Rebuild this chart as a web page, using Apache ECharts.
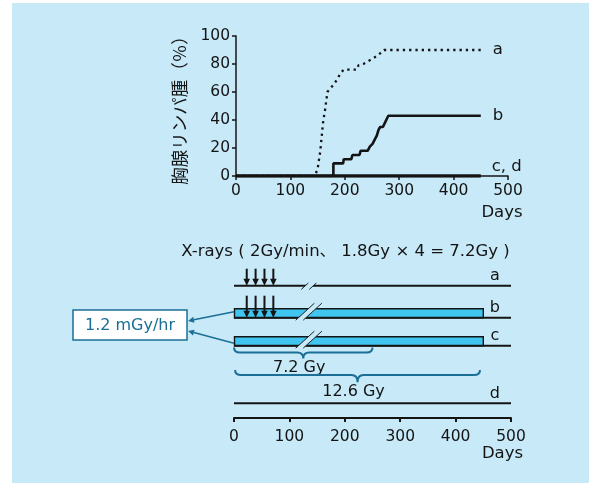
<!DOCTYPE html>
<html><head><meta charset="utf-8">
<script src="https://cdn.jsdelivr.net/npm/echarts@6/dist/echarts.min.js"></script>
<style>html,body{margin:0;padding:0;background:#fff}#c{width:589px;height:483px}</style>
</head><body><div id="c"></div>
<script>
// ---------- data ----------
const tickDays = [0, 100, 200, 300, 400, 500];
const tickPct = [0, 20, 40, 60, 80, 100];
const seriesNames = ['a', 'b', 'c, d'];
const curveA = [[0,0],[145,0],[150,5],[155,18],[160,38],[164,48],[168,60],[172,62],[179,65],[186,69],[193,74],[199,76],[222,76],[225,79],[234,80],[243,82],[252,84],[260,86],[266,88],[272,90],[450,90]];
const curveB = [[0,0],[179,0],[179,9],[197,9],[198,12],[212,12],[214,15],[227,15],[229,18],[242,18],[246,21],[251,23],[255,26],[259,29],[262,33],[265,35],[270,35],[275,39],[280,43],[450,43]];
const curveCD = [[0,0],[450,0]];
const rowNames = ['a', 'b', 'c', 'd'];
const rowLineEnd = [500, 500, 500, 500];
const rowExposureEnd = [null, 450, 450, null];
const rowHasXrays = [true, true, false, false];
const xrayDays = [23, 39, 55, 71];
const rowHasBreak = [true, true, true, false];
const breakDay = 135;
const braceLabels = ['7.2 Gy', '12.6 Gy'];
const braceFrom = [0, 2];
const braceTo = [250, 444];
const exposedRows = [1, 2];
const xrayTitle = 'X-rays ( 2Gy/min、 1.8Gy × 4 = 7.2Gy )';
const doseRateLabel = '1.2 mGy/hr';
const yAxisName = '胸腺リンパ腫（％）';
const xAxisName = 'Days';

// ---------- layout / style ----------
const BG = '#c7e9f8', BAR = '#3fc5f0', TEAL = '#1b6f96', INK = '#141414';
const FONT = "'DejaVu Sans', 'Noto Sans CJK JP', sans-serif";
const ROW_Y = [132.3, 100.3, 72.3, 14.7];   // px above lower axis
const BAR_H = 9;
const ARROW_LEN = [17, 22, 0, 0];
const BRACE_Y = [70.5, 48];                 // px above lower axis (brace ends)
const BRACE_TIP = [10, 12];

const chart = echarts.init(document.getElementById('c'), null, {renderer: 'canvas'});

const tickLabel = v => (tickDays.includes(v) || tickPct.includes(v)) ? String(v) : '';

function rowRender(params, api) {
  const i = api.value(0);
  const y = api.coord([0, ROW_Y[i]])[1];
  const x0 = api.coord([0, 0])[0];
  const x1 = api.coord([rowLineEnd[i], 0])[0];
  const ch = [];
  const hasBar = rowExposureEnd[i] != null;
  if (hasBar) {
    const xe = api.coord([rowExposureEnd[i], 0])[0];
    ch.push({type: 'rect', shape: {x: x0 + 0.5, y: y - BAR_H, width: xe - x0 - 0.5, height: BAR_H},
      style: {fill: BAR, stroke: INK, lineWidth: 1.4}});
  }
  ch.push({type: 'line', shape: {x1: x0, y1: y, x2: x1, y2: y}, style: {stroke: INK, lineWidth: 2}});
  if (rowHasBreak[i]) {
    const xb = api.coord([breakDay, 0])[0];
    const hh = hasBar ? 8.5 : 3.2;
    const cy = hasBar ? y - 6 : y + 0.5;
    const w = hasBar ? 7.5 : 8;
    const k = 1.1;
    const bl = [xb - w / 2 - hh * k, cy + hh], br = [xb + w / 2 - hh * k, cy + hh];
    const tr = [xb + w / 2 + hh * k, cy - hh], tl = [xb - w / 2 + hh * k, cy - hh];
    ch.push({type: 'polygon', shape: {points: [bl, br, tr, tl]}, style: {fill: BG}});
    ch.push({type: 'line', shape: {x1: bl[0], y1: bl[1], x2: tl[0], y2: tl[1]}, style: {stroke: '#222', lineWidth: 1}});
    ch.push({type: 'line', shape: {x1: br[0], y1: br[1], x2: tr[0], y2: tr[1]}, style: {stroke: '#222', lineWidth: 1}});
  }
  const xl = api.coord([471, 0])[0];
  ch.push({type: 'text', style: {text: rowNames[i], x: xl, y: y - 9.5, align: 'center', verticalAlign: 'middle',
    font: '16px ' + FONT, fill: INK}});
  return {type: 'group', children: ch};
}

function xrayRender(params, api) {
  const d = api.value(0), r = api.value(1);
  const [x, yTip] = api.coord([d, ROW_Y[r]]);
  const top = yTip - ARROW_LEN[r];
  return {type: 'group', children: [
    {type: 'line', shape: {x1: x, y1: top, x2: x, y2: yTip - 5}, style: {stroke: INK, lineWidth: 2}},
    {type: 'polygon', shape: {points: [[x - 3.3, yTip - 7], [x + 3.3, yTip - 7], [x, yTip]]}, style: {fill: INK}}
  ]};
}

function braceRender(params, api) {
  const i = api.value(0);
  const xa = api.coord([braceFrom[i], 0])[0];
  const xb = api.coord([braceTo[i], 0])[0];
  const y0 = api.coord([0, BRACE_Y[i]])[1];
  const ym = y0 + 5, yt = y0 + 5 + BRACE_TIP[i] * 0.6;
  const xm = (xa + xb) / 2, q = 6;
  const p = `M${xa} ${y0} Q${xa} ${ym} ${xa + q} ${ym} L${xm - q} ${ym} Q${xm} ${ym} ${xm} ${yt} ` +
            `Q${xm} ${ym} ${xm + q} ${ym} L${xb - q} ${ym} Q${xb} ${ym} ${xb} ${y0}`;
  return {type: 'group', children: [
    {type: 'path', shape: {pathData: p}, style: {fill: 'none', stroke: TEAL, lineWidth: 2}},
    {type: 'text', style: {text: braceLabels[i], x: xm - 4, y: yt + 9.5, align: 'center', verticalAlign: 'middle',
      font: '16px ' + FONT, fill: INK}}
  ]};
}

const BOX = {x: 73, y: 310, w: 114, h: 30};
const LINK_TIP = [[188, 321], [188, 331]];
const LINK_OFF = [6, 2.5];
function linkRender(params, api) {
  const idx = params.dataIndex;
  const r = api.value(0);
  const [sx, ry] = api.coord([0, ROW_Y[r]]);
  const sy = ry - LINK_OFF[idx];
  const [tx, ty] = LINK_TIP[idx];
  const dx = tx - sx, dy = ty - sy, L = Math.hypot(dx, dy);
  const ux = dx / L, uy = dy / L, hl = 6, hw = 3;
  const bx = tx - ux * hl, by = ty - uy * hl;
  return {type: 'group', children: [
    {type: 'line', shape: {x1: sx, y1: sy, x2: bx, y2: by}, style: {stroke: TEAL, lineWidth: 1.6}},
    {type: 'polygon', shape: {points: [[tx, ty], [bx - uy * hw, by + ux * hw], [bx + uy * hw, by - ux * hw]]}, style: {fill: TEAL}}
  ]};
}

const xrayData = [];
rowHasXrays.forEach((h, r) => { if (h) xrayDays.forEach(d => xrayData.push([d, r])); });

const axisCommon = {
  axisLine: {lineStyle: {color: INK, width: 1.5}},
  axisTick: {show: true, inside: false, length: 4, lineStyle: {color: INK, width: 1.5}},
  splitLine: {show: false},
  axisLabel: {color: INK, fontSize: 15.5, fontFamily: FONT}
};

chart.setOption({
  animation: false,
  backgroundColor: '#ffffff',
  graphic: [
    {type: 'rect', z: -10, shape: {x: 12, y: 3, width: 577, height: 480}, style: {fill: BG}},
    {type: 'text', style: {text: xrayTitle, x: 345.5, y: 252, align: 'center', verticalAlign: 'middle', font: '16.5px ' + FONT, fill: INK}},
    {type: 'text', style: {text: xAxisName, x: 502, y: 213, align: 'center', verticalAlign: 'middle', font: '16.5px ' + FONT, fill: INK}},
    {type: 'text', style: {text: xAxisName, x: 502.5, y: 453.5, align: 'center', verticalAlign: 'middle', font: '16.5px ' + FONT, fill: INK}},
    {type: 'rect', shape: {x: BOX.x, y: BOX.y, width: BOX.w, height: BOX.h}, style: {fill: '#ffffff', stroke: TEAL, lineWidth: 1.5}},
    {type: 'text', style: {text: doseRateLabel, x: BOX.x + BOX.w / 2, y: BOX.y + BOX.h / 2 + 1, align: 'center', verticalAlign: 'middle', font: '16px ' + FONT, fill: TEAL}}
  ],
  grid: [
    {left: 236, top: 36, width: 272, height: 140},
    {left: 234, top: 250, width: 277, height: 168}
  ],
  xAxis: [
    Object.assign({}, axisCommon, {gridIndex: 0, type: 'value', min: tickDays[0], max: tickDays[tickDays.length - 1], interval: 100,
      axisLabel: Object.assign({}, axisCommon.axisLabel, {margin: 7, formatter: tickLabel})}),
    Object.assign({}, axisCommon, {gridIndex: 1, type: 'value', min: tickDays[0], max: tickDays[tickDays.length - 1], interval: 100,
      axisLine: {lineStyle: {color: INK, width: 2}},
      axisTick: {show: true, length: 4, lineStyle: {color: INK, width: 2}},
      axisLabel: Object.assign({}, axisCommon.axisLabel, {margin: 11, formatter: tickLabel})})
  ],
  yAxis: [
    Object.assign({}, axisCommon, {gridIndex: 0, type: 'value', min: tickPct[0], max: tickPct[tickPct.length - 1], interval: 20,
      name: yAxisName, nameLocation: 'middle', nameGap: 48, nameRotate: 90,
      nameTextStyle: {fontSize: 17.5, color: INK, fontFamily: "'Noto Sans CJK JP', sans-serif", padding: [0, 0, 0, 0]},
      axisLabel: Object.assign({}, axisCommon.axisLabel, {margin: 6, formatter: tickLabel})}),
    {gridIndex: 1, type: 'value', min: 0, max: 168, show: false}
  ],
  series: [
    {name: seriesNames[2], type: 'line', xAxisIndex: 0, yAxisIndex: 0, data: curveCD, showSymbol: false, z: 3,
      lineStyle: {color: INK, width: 3.5},
      endLabel: {show: true, formatter: '{a}', color: INK, fontSize: 16.5, fontFamily: FONT, distance: 11, offset: [0, -9]}},
    {name: seriesNames[1], type: 'line', xAxisIndex: 0, yAxisIndex: 0, data: curveB, showSymbol: false, z: 4,
      lineStyle: {color: INK, width: 2.6},
      endLabel: {show: true, formatter: '{a}', color: INK, fontSize: 16.5, fontFamily: FONT, distance: 12}},
    {name: seriesNames[0], type: 'line', xAxisIndex: 0, yAxisIndex: 0, data: curveA, showSymbol: false, z: 5,
      lineStyle: {color: INK, width: 2.3, type: [2.3, 4]},
      endLabel: {show: true, formatter: '{a}', color: INK, fontSize: 16.5, fontFamily: FONT, distance: 12}},
    {type: 'custom', xAxisIndex: 1, yAxisIndex: 1, renderItem: rowRender, data: [[0], [1], [2], [3]], z: 3, clip: false},
    {type: 'custom', xAxisIndex: 1, yAxisIndex: 1, renderItem: xrayRender, data: xrayData, z: 6, clip: false},
    {type: 'custom', xAxisIndex: 1, yAxisIndex: 1, renderItem: braceRender, data: [[0], [1]], z: 3, clip: false},
    {type: 'custom', xAxisIndex: 1, yAxisIndex: 1, renderItem: linkRender, data: exposedRows.map(r => [r]), z: 7, clip: false}
  ]
});
</script></body></html>
